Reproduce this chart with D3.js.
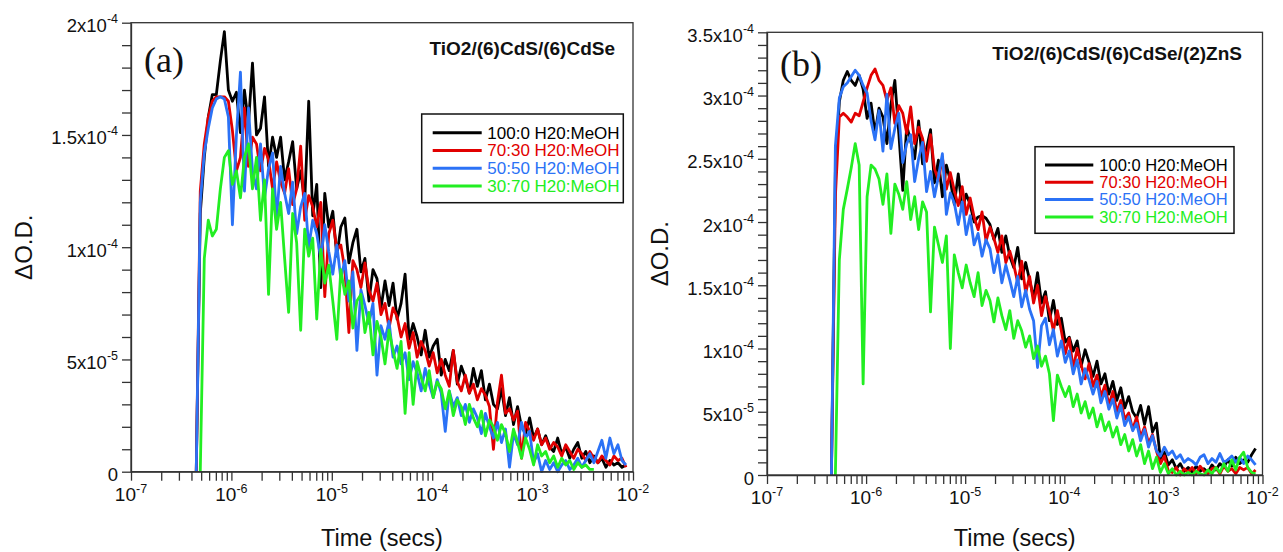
<!DOCTYPE html>
<html><head><meta charset="utf-8">
<script src="https://cdn.jsdelivr.net/npm/d3@7"></script>
<style>body{margin:0;background:#fff}svg{display:block}</style>
</head><body>
<svg id="chart" width="1283" height="552"></svg>
<script>
// ---------- DATA ----------
// shared sampling grid: log10(time / s)
const logTime = [
-6.35,-6.31,-6.27,-6.23,-6.19,-6.15,-6.11,-6.07,-6.03,-5.99,
-5.95,-5.91,-5.87,-5.83,-5.79,-5.75,-5.71,-5.67,-5.63,-5.59,
-5.55,-5.51,-5.47,-5.43,-5.39,-5.35,-5.31,-5.27,-5.23,-5.19,
-5.15,-5.11,-5.07,-5.03,-4.99,-4.95,-4.91,-4.87,-4.83,-4.79,
-4.75,-4.71,-4.67,-4.63,-4.59,-4.55,-4.51,-4.47,-4.43,-4.39,
-4.35,-4.31,-4.27,-4.23,-4.19,-4.15,-4.11,-4.07,-4.03,-3.99,
-3.95,-3.91,-3.87,-3.83,-3.79,-3.75,-3.71,-3.67,-3.63,-3.59,
-3.55,-3.51,-3.47,-3.43,-3.39,-3.35,-3.31,-3.27,-3.23,-3.19,
-3.15,-3.11,-3.07,-3.03,-2.99,-2.95,-2.91,-2.87,-2.83,-2.79,
-2.75,-2.71,-2.67,-2.63,-2.59,-2.55,-2.51,-2.47,-2.43,-2.39,
-2.35,-2.31,-2.27,-2.23,-2.19,-2.15,-2.11,-2.07];

const seriesNames = ["100:0 H20:MeOH", "70:30 H20:MeOH", "50:50 H20:MeOH", "30:70 H20:MeOH"];

// Panel (a): TiO2/(6)CdS/(6)CdSe, ΔO.D. in units of 1e-5
const a_100_0 = [
0,11.5,14.0,15.8,16.8,16.8,18.3,19.6,17.0,16.5,
16.9,15.1,17.0,15.5,18.2,15.0,15.3,16.7,13.6,14.9,
14.0,14.9,13.0,13.8,14.7,12.6,13.4,12.0,16.5,11.4,
12.8,8.2,12.4,10.9,11.6,9.6,10.9,11.3,9.3,10.2,
10.8,8.9,9.5,7.6,9.0,8.6,7.3,8.5,7.4,8.4,
6.8,7.5,8.8,5.9,6.6,6.0,5.2,6.3,5.1,5.6,
5.9,4.3,5.0,4.5,5.4,3.9,4.7,4.2,3.5,4.6,
3.8,4.5,3.2,3.9,3.0,2.8,3.7,2.5,3.3,2.1,
2.9,2.0,1.7,2.4,1.5,1.9,1.2,1.6,1.1,0.9,
1.5,0.8,1.1,0.6,1.0,1.3,0.6,0.9,0.4,0.7,
0.4,0.6,0.2,0.5,0.3,0.4,0.2,0.3];
const a_70_30 = [
0,12.5,14.6,15.8,16.5,16.7,16.7,16.7,16.5,15.2,
13.4,14.0,16.2,13.6,14.9,14.6,13.4,14.4,13.9,12.6,
13.8,12.9,12.4,13.5,11.9,12.6,14.5,11.2,12.3,11.8,
10.9,12.0,7.8,10.6,11.2,9.9,10.1,9.0,6.2,9.4,
9.0,8.2,9.3,8.1,7.6,8.4,7.0,7.5,6.4,7.3,
6.9,6.0,6.6,5.5,6.2,5.1,5.8,5.4,4.7,5.3,
4.4,5.0,4.3,3.8,5.4,4.0,3.6,4.3,3.5,3.9,
3.2,3.7,3.4,2.9,1.0,3.1,4.3,2.6,2.8,2.3,
2.7,0.6,2.2,1.8,1.4,1.9,1.2,1.5,1.0,1.3,
1.1,0.7,1.2,0.9,0.6,1.0,0.8,0.5,0.9,0.6,
0.4,0.7,0.5,0.3,0.7,0.5,0.6,0.2];
const a_50_50 = [
0,12.0,14.2,15.3,16.2,16.6,16.7,16.6,15.8,11.0,
15.0,17.8,12.5,16.2,13.4,12.6,14.6,12.2,13.5,14.2,
11.3,13.6,12.4,11.5,12.9,10.6,11.8,12.4,10.0,11.2,
10.6,9.5,11.0,9.8,8.8,10.1,8.6,9.4,7.6,8.9,
5.4,8.1,7.4,6.6,7.5,4.3,6.5,5.9,6.7,5.1,
5.6,4.8,5.3,4.1,4.9,4.4,3.6,4.6,3.9,3.3,
4.1,3.5,1.8,3.6,2.9,3.3,2.5,3.0,2.2,2.8,
2.4,1.7,2.6,2.0,1.5,2.2,1.3,1.9,0.2,1.7,
1.2,2.2,1.5,1.8,0.4,0.8,0.0,0.5,0.1,0.4,
0.0,0.3,0.5,0.1,0.3,0.6,0.2,0.5,0.8,0.4,
0.9,1.4,0.6,1.5,0.8,1.2,0.5,0.3];
const a_30_70 = [
null,0,9.5,11.2,10.5,10.8,12.6,14.0,14.3,12.8,
13.4,12.2,14.0,14.6,12.6,14.0,11.2,13.0,7.9,12.6,
10.8,12.0,9.5,7.1,11.5,10.2,6.3,10.8,9.6,10.4,
6.8,9.9,8.4,9.2,7.6,5.9,9.0,7.9,8.5,6.4,
7.6,7.9,6.2,7.1,5.2,6.7,6.0,4.8,6.3,5.4,
4.6,5.8,2.6,5.3,3.0,4.9,4.2,3.6,4.5,3.3,
4.0,3.7,2.8,3.6,2.5,3.2,2.9,2.1,3.0,2.4,
2.0,2.7,1.6,2.3,2.0,1.4,2.1,1.7,0.9,1.9,
1.3,0.6,1.5,1.0,0.3,1.2,0.7,0.9,0.4,0.7,
0.2,0.6,0.3,0.5,0.1,0.4,0.2,0.3,0.1,0.1,
null,null,null,null,null,null,null,null];

// Panel (b): TiO2/(6)CdS/(6)CdSe/(2)ZnS, ΔO.D. in units of 1e-5
const b_100_0 = [
0,24.0,29.5,31.2,31.9,31.2,30.8,31.6,30.5,28.2,
29.4,27.0,29.0,28.3,26.2,29.3,31.2,27.0,22.5,27.6,
26.4,25.0,28.0,24.6,25.8,27.3,23.1,24.9,22.0,24.5,
23.3,21.4,23.8,21.0,22.2,21.4,20.0,20.4,20.5,20.3,
19.8,18.6,19.5,17.6,18.9,17.3,16.4,18.0,15.5,16.8,
15.4,14.0,16.0,13.6,14.5,12.2,13.8,11.9,12.4,10.5,
10.9,9.8,10.6,8.6,9.9,8.9,7.8,9.0,7.2,8.0,
6.4,7.4,5.9,6.9,5.3,6.2,5.0,4.5,5.5,4.0,
5.4,3.4,4.1,1.3,1.8,0.8,1.2,0.5,0.9,0.3,
0.6,0.2,0.7,0.3,0.5,0.2,0.8,0.4,0.9,0.6,
1.2,0.7,1.4,0.9,1.2,1.0,1.6,2.1];
const b_70_30 = [
0,22.0,28.3,28.6,28.3,27.9,28.6,28.4,29.5,30.6,
31.6,32.1,31.2,30.8,29.6,30.6,27.8,29.2,28.6,27.0,
29.1,26.2,27.5,26.6,24.8,26.9,24.2,23.3,25.1,22.6,
23.9,22.5,21.3,22.8,20.6,21.9,20.4,19.4,20.8,18.5,
19.6,18.7,17.6,18.9,16.8,17.7,16.6,15.2,16.9,14.4,
15.7,13.6,15.0,12.6,14.1,12.9,11.4,13.0,11.4,9.6,
10.8,8.4,10.0,8.7,7.6,8.8,7.0,7.9,6.2,7.1,
5.5,6.6,5.0,5.9,4.4,4.9,3.6,4.6,3.0,3.8,
2.5,3.2,1.9,0.9,1.5,0.3,0.2,0.6,0.0,0.5,
0.2,0.6,0.1,0.7,0.3,0.1,0.5,0.6,0.1,0.7,
0.3,0.5,0.1,0.6,0.4,0.6,0.1,0.4];
const b_50_50 = [
0,26.0,29.8,30.7,31.0,31.5,32.0,31.6,30.8,30.2,
28.0,26.5,28.8,25.6,30.1,25.8,27.4,28.6,24.7,26.2,
26.9,23.2,25.0,26.3,22.4,24.0,22.0,23.6,25.4,20.6,
22.3,21.5,19.8,21.6,19.0,20.5,18.2,19.1,17.3,18.6,
17.9,16.0,17.4,15.2,16.6,15.4,14.1,15.7,13.3,14.6,
13.1,12.2,8.5,11.8,12.4,10.3,11.5,9.4,10.6,8.9,
9.8,8.0,9.1,7.2,8.4,7.5,6.4,7.4,5.7,6.6,
5.2,6.0,4.5,5.5,3.9,4.6,3.5,4.1,2.7,3.6,
2.2,3.1,1.9,1.5,2.2,1.6,1.9,1.3,1.6,1.0,
1.3,1.1,0.8,1.4,1.6,0.9,1.3,1.0,1.7,1.0,
1.2,1.5,1.0,1.4,0.9,1.5,1.2,0.8];
const b_30_70 = [
null,0,17.0,21.0,22.6,24.3,26.2,24.5,7.2,22.0,
24.5,24.2,23.4,21.4,23.8,19.1,23.0,22.2,21.0,23.2,
20.2,22.0,19.4,21.6,20.8,12.9,19.6,18.2,16.8,18.9,
10.0,17.4,16.0,14.8,16.6,15.2,14.1,16.0,13.4,14.6,
13.8,12.1,14.0,12.6,11.5,13.0,10.8,12.2,11.4,10.1,
11.0,9.2,10.2,8.6,9.4,8.0,4.3,7.9,7.0,6.2,
7.0,5.4,6.4,4.9,5.8,4.5,5.3,3.8,4.8,3.5,
4.2,3.0,3.8,2.4,3.2,1.9,2.8,1.5,2.4,0.9,
1.9,0.5,1.4,0.2,0.9,0.1,0.5,0.0,0.3,0.0,
0.2,0.0,0.3,0.1,0.0,0.4,0.1,0.6,0.2,0.9,
0.3,1.2,0.4,1.4,1.8,0.6,0.2,0.1];

// Tick values / labels
const xDecades = [1e-7, 1e-6, 1e-5, 1e-4, 1e-3, 1e-2];
const xDecadeLabels = [["10","-7"],["10","-6"],["10","-5"],["10","-4"],["10","-3"],["10","-2"]];
const yTicksA = [0, 5, 10, 15, 20];
const yTickLabelsA = [["0",""],["5x10","-5"],["1x10","-4"],["1.5x10","-4"],["2x10","-4"]];
const yTicksB = [0, 5, 10, 15, 20, 25, 30, 35];
const yTickLabelsB = [["0",""],["5x10","-5"],["1x10","-4"],["1.5x10","-4"],["2x10","-4"],["2.5x10","-4"],["3x10","-4"],["3.5x10","-4"]];

// ---------- STYLE / LAYOUT ----------
const colors = ["#000000", "#e10000", "#2b72f6", "#22ee22"];
const SANS = "'Liberation Sans', Arial, Helvetica, sans-serif";
const SERIF = "'Liberation Serif', 'Times New Roman', serif";
const AX = "#333";

const panels = [
  { left:131, right:633, top:22.7, bottom:471.7, yMax:20,
    yTicks:yTicksA, yLabels:yTickLabelsA,
    series:[a_100_0, a_70_30, a_50_50, a_30_70],
    title:"TiO2/(6)CdS/(6)CdSe", titleX:615, titleY:55,
    tag:"(a)", tagX:144, tagY:72,
    leg:{x:421.7, y:114, w:201.6, h:88.7, lx0:432.7, lx1:481.7, tx:487.3, ly:132.7, dy:17.8, fs:17} },
  { left:767, right:1262.5, top:32.3, bottom:475, yMax:35,
    yTicks:yTicksB, yLabels:yTickLabelsB,
    series:[b_100_0, b_70_30, b_50_50, b_30_70],
    title:"TiO2/(6)CdS/(6)CdSe/(2)ZnS", titleX:1242, titleY:60,
    tag:"(b)", tagX:780, tagY:75.5,
    leg:{x:1035, y:146.7, w:199, h:86.6, lx0:1045, lx1:1093.3, tx:1099.3, ly:165, dy:17.3, fs:16.5} }
];

const svg = d3.select("#chart");

function supText(textSel, main, sup, fs, supFs, shift) {
  textSel.append("tspan").attr("font-size", fs).text(main);
  if (sup) textSel.append("tspan").attr("font-size", supFs).attr("dy", -shift).text(sup);
}

panels.forEach(p => {
  const g = svg.append("g");
  const x = d3.scaleLog().domain([1e-7, 1e-2]).range([p.left, p.right]);
  const y = d3.scaleLinear().domain([0, p.yMax]).range([p.bottom, p.top]);

  // traces
  const line = d3.line()
    .defined(d => d.v !== null && d.v !== undefined)
    .x(d => x(Math.pow(10, d.t)))
    .y(d => y(d.v));
  p.series.forEach((vals, i) => {
    const pts = logTime.map((t, k) => ({ t: t, v: vals[k] }));
    g.append("path").datum(pts)
      .attr("d", line)
      .attr("fill", "none")
      .attr("stroke", colors[i])
      .attr("stroke-width", 2.8)
      .attr("stroke-linejoin", "round");
  });

  // x axis ticks (minor + major, same length)
  const xTickVals = [];
  xDecades.forEach((d, i) => {
    if (i < xDecades.length - 1) { for (let m = 1; m <= 9; m++) xTickVals.push(m * d); }
    else xTickVals.push(d);
  });
  const xa = g.append("g").attr("transform", `translate(0,${p.bottom})`)
    .call(d3.axisBottom(x).tickValues(xTickVals).tickSize(9).tickSizeOuter(0).tickFormat(""));
  xa.selectAll("path,line").attr("stroke", AX).attr("stroke-width", 1.3);

  // y axis ticks every 1e-5
  const yTickVals = d3.range(0, p.yMax + 0.5, 1);
  const ya = g.append("g").attr("transform", `translate(${p.left},0)`)
    .call(d3.axisLeft(y).tickValues(yTickVals).tickSize(9).tickSizeOuter(0).tickFormat(""));
  ya.selectAll("path,line").attr("stroke", AX).attr("stroke-width", 1.3);

  // frame
  g.append("rect").attr("x", p.left).attr("y", p.top)
    .attr("width", p.right - p.left).attr("height", p.bottom - p.top)
    .attr("fill", "none").attr("stroke", AX).attr("stroke-width", 1.3);

  // x tick labels
  xDecades.forEach((d, i) => {
    const t = g.append("text").attr("x", x(d)).attr("y", p.bottom + 29)
      .attr("text-anchor", "middle").attr("font-family", SANS).attr("fill", "#111");
    supText(t, xDecadeLabels[i][0], xDecadeLabels[i][1], 19, 12.5, 8);
  });
  // y tick labels
  p.yTicks.forEach((v, i) => {
    const t = g.append("text").attr("x", p.left - 13).attr("y", y(v) + 9.5)
      .attr("text-anchor", "end").attr("font-family", SANS).attr("fill", "#111");
    supText(t, p.yLabels[i][0], p.yLabels[i][1], 18.5, 12.5, 9);
  });

  // axis titles
  g.append("text").attr("x", (p.left + p.right) / 2).attr("y", 545.5)
    .attr("text-anchor", "middle").attr("font-family", SANS).attr("font-size", 23.5)
    .attr("fill", "#111").text("Time (secs)");
  const yc = (p.top + p.bottom) / 2;
  g.append("text").attr("transform", `translate(${p.left - 99.5},${yc}) rotate(-90)`)
    .attr("text-anchor", "middle").attr("font-family", SANS).attr("font-size", 24)
    .attr("fill", "#111").text("ΔO.D.");

  // panel tag and title
  g.append("text").attr("x", p.tagX).attr("y", p.tagY)
    .attr("font-family", SERIF).attr("font-size", 36).attr("fill", "#111").text(p.tag);
  g.append("text").attr("x", p.titleX).attr("y", p.titleY).attr("text-anchor", "end")
    .attr("font-family", SANS).attr("font-weight", "bold").attr("font-size", 19)
    .attr("fill", "#111").text(p.title);

  // legend
  const L = p.leg;
  g.append("rect").attr("x", L.x).attr("y", L.y).attr("width", L.w).attr("height", L.h)
    .attr("fill", "#fff").attr("stroke", "#111").attr("stroke-width", 1.5);
  seriesNames.forEach((name, i) => {
    const ly = L.ly + i * L.dy;
    g.append("line").attr("x1", L.lx0).attr("x2", L.lx1).attr("y1", ly).attr("y2", ly)
      .attr("stroke", colors[i]).attr("stroke-width", 3);
    g.append("text").attr("x", L.tx).attr("y", ly + 5.8)
      .attr("font-family", SANS).attr("font-size", L.fs).attr("fill", colors[i]).text(name);
  });
});
</script>
</body></html>
